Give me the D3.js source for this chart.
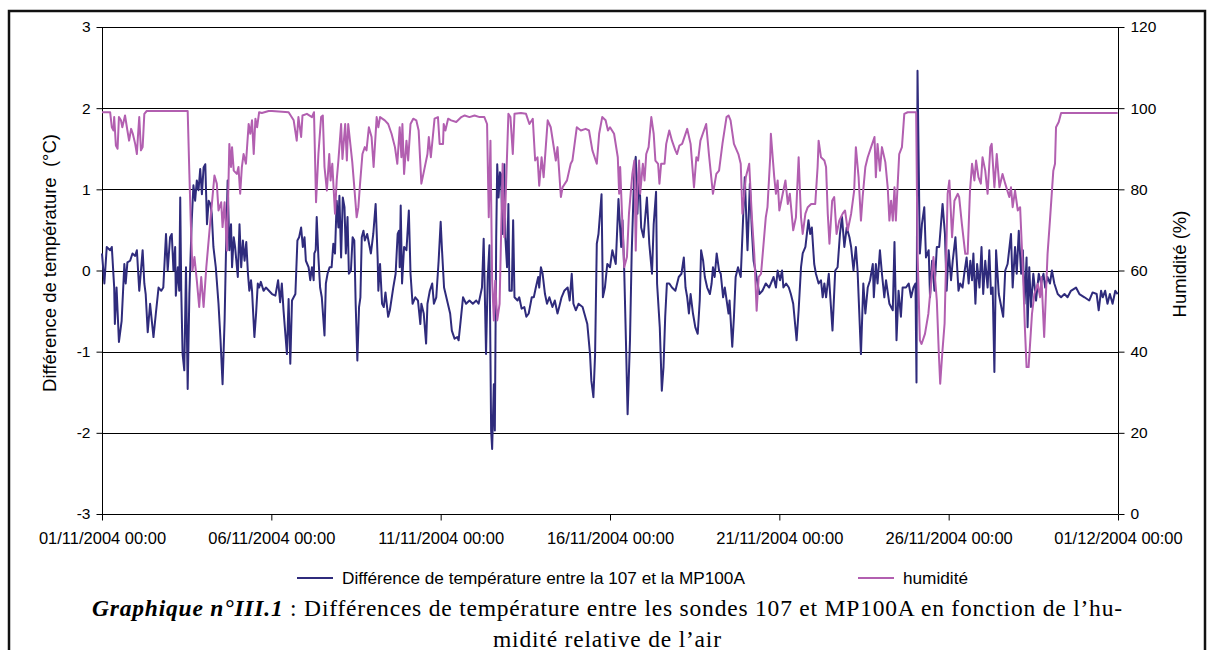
<!DOCTYPE html>
<html>
<head>
<meta charset="utf-8">
<script src="https://cdn.jsdelivr.net/npm/d3@7"></script>
<style>
  html, body { margin: 0; padding: 0; background: #fff; }
  svg { display: block; }
</style>
</head>
<body>
<svg id="chart" width="1214" height="650"></svg>
<script>
// ---- DATA (day offset from 01/11/2004 00:00, value) ----
const diffData = [
[0.00,0.21],[0.07,-0.16],[0.14,0.29],[0.24,0.25],[0.29,0.29],[0.36,-0.21],[0.38,-0.66],[0.43,-0.21],[0.50,-0.88],[0.58,-0.62],
[0.66,0.08],[0.70,-0.16],[0.75,0.10],[0.83,0.12],[0.90,0.21],[0.98,0.18],[1.03,0.25],[1.10,-0.25],[1.20,0.25],[1.25,-0.16],
[1.29,-0.29],[1.35,-0.76],[1.42,-0.41],[1.52,-0.82],[1.59,-0.53],[1.67,-0.21],[1.75,-0.25],[1.81,-0.21],[1.89,0.45],[1.94,0.00],
[2.01,0.41],[2.06,0.45],[2.11,0.00],[2.16,0.29],[2.18,-0.31],[2.24,0.04],[2.28,-0.25],[2.31,0.90],[2.34,-0.25],[2.38,-1.03],
[2.43,-1.23],[2.48,0.04],[2.53,-1.46],[2.58,-0.29],[2.65,0.62],[2.70,1.05],[2.75,0.86],[2.80,1.11],[2.85,0.99],[2.90,1.25],
[2.95,0.94],[3.00,1.27],[3.05,1.31],[3.10,0.57],[3.15,0.86],[3.20,0.82],[3.24,0.70],[3.29,0.29],[3.36,0.04],[3.44,-0.41],
[3.50,-0.86],[3.56,-1.40],[3.62,-0.62],[3.66,0.21],[3.71,1.11],[3.76,0.25],[3.81,0.57],[3.84,0.04],[3.89,0.41],[3.93,0.29],
[4.01,-0.08],[4.06,0.57],[4.11,0.04],[4.16,0.37],[4.21,0.12],[4.26,0.35],[4.31,-0.04],[4.35,-0.25],[4.40,-0.12],[4.43,-0.25],
[4.50,-0.82],[4.55,-0.53],[4.60,-0.16],[4.64,-0.21],[4.69,-0.14],[4.77,-0.25],[4.84,-0.21],[5.02,-0.29],[5.12,-0.31],[5.20,-0.12],
[5.26,-0.39],[5.31,-0.16],[5.36,-0.49],[5.46,-1.03],[5.51,-0.35],[5.56,-1.15],[5.61,-0.37],[5.71,-0.29],[5.77,0.37],[5.82,0.41],
[5.88,0.53],[5.93,0.29],[5.98,0.41],[6.02,0.12],[6.10,0.04],[6.15,-0.12],[6.20,0.04],[6.25,-0.12],[6.27,0.21],[6.31,0.25],
[6.34,0.66],[6.39,0.16],[6.44,-0.21],[6.49,-0.33],[6.57,-0.80],[6.61,-0.16],[6.66,-0.04],[6.72,0.04],[6.78,0.04],[6.83,0.33],
[6.88,0.21],[6.93,0.86],[6.98,0.53],[7.01,0.92],[7.06,0.16],[7.11,0.90],[7.16,0.78],[7.20,0.21],[7.25,0.66],[7.29,-0.04],
[7.35,0.00],[7.40,0.41],[7.45,0.37],[7.49,-0.41],[7.54,-1.11],[7.59,-0.45],[7.63,-0.33],[7.67,0.41],[7.72,0.49],[7.76,0.37],
[7.83,0.45],[7.94,0.21],[8.01,0.45],[8.08,0.82],[8.14,0.14],[8.16,-0.25],[8.21,0.08],[8.27,-0.41],[8.32,-0.45],[8.37,-0.27],
[8.45,-0.57],[8.50,-0.49],[8.60,-0.21],[8.67,-0.04],[8.73,0.45],[8.77,0.49],[8.79,0.04],[8.82,0.80],[8.86,-0.16],[8.92,0.29],
[8.99,0.25],[9.06,0.74],[9.11,-0.04],[9.17,-0.41],[9.25,-0.33],[9.33,-0.37],[9.40,-0.66],[9.43,-0.41],[9.50,-0.53],[9.57,-0.90],
[9.61,-0.41],[9.68,-0.25],[9.75,-0.16],[9.80,-0.41],[9.87,-0.33],[9.94,0.12],[10.00,0.60],[10.04,0.25],[10.10,-0.21],[10.19,-0.37],
[10.28,-0.53],[10.33,-0.74],[10.41,-0.84],[10.49,-0.82],[10.53,-0.86],[10.59,-0.62],[10.66,-0.33],[10.75,-0.41],[10.85,-0.37],[10.95,-0.41],
[11.05,-0.37],[11.12,-0.41],[11.22,-0.21],[11.27,0.39],[11.34,-1.03],[11.39,-0.08],[11.44,0.31],[11.49,-1.97],[11.52,-2.20],[11.57,-1.40],
[11.60,-1.97],[11.64,0.41],[11.67,1.31],[11.71,0.90],[11.75,1.21],[11.78,1.19],[11.83,0.45],[11.88,1.31],[11.91,0.41],[11.96,0.04],
[12.00,0.82],[12.03,-0.25],[12.10,-0.25],[12.14,0.62],[12.18,-0.33],[12.27,-0.37],[12.32,-0.33],[12.39,-0.47],[12.47,-0.45],[12.53,-0.57],
[12.60,-0.53],[12.69,-0.33],[12.75,-0.33],[12.81,-0.21],[12.88,-0.08],[12.91,-0.21],[12.96,0.04],[13.01,-0.04],[13.08,-0.29],[13.14,-0.41],
[13.21,-0.33],[13.30,-0.45],[13.37,-0.37],[13.45,-0.53],[13.50,-0.45],[13.57,-0.33],[13.65,-0.25],[13.75,-0.21],[13.81,-0.37],[13.87,-0.04],
[13.92,-0.41],[13.99,-0.49],[14.07,-0.41],[14.19,-0.45],[14.33,-0.66],[14.41,-1.03],[14.45,-1.36],[14.51,-1.56],[14.56,-1.03],[14.61,0.33],
[14.66,0.45],[14.75,0.94],[14.79,-0.33],[14.85,-0.21],[14.92,0.08],[15.00,0.04],[15.07,0.25],[15.17,0.08],[15.25,0.88],[15.33,0.29],
[15.37,0.62],[15.42,0.00],[15.47,-0.86],[15.52,-1.77],[15.59,-0.86],[15.64,0.21],[15.72,1.27],[15.76,1.40],[15.81,0.70],[15.86,1.27],
[15.92,0.53],[15.99,0.41],[16.09,0.90],[16.16,0.33],[16.24,-0.04],[16.29,0.57],[16.36,0.97],[16.39,-0.16],[16.47,-0.70],[16.53,-1.48],
[16.58,-1.19],[16.63,-0.57],[16.68,-0.16],[16.75,-0.16],[16.83,-0.21],[16.93,-0.25],[17.03,-0.08],[17.11,-0.04],[17.18,0.16],[17.23,-0.21],
[17.28,-0.33],[17.33,-0.53],[17.38,-0.29],[17.45,-0.53],[17.52,-0.70],[17.59,-0.78],[17.65,-0.37],[17.69,0.25],[17.75,0.12],[17.80,-0.08],
[17.87,-0.21],[17.95,-0.29],[18.00,-0.16],[18.04,0.04],[18.09,-0.08],[18.15,0.21],[18.22,0.00],[18.27,-0.04],[18.34,-0.33],[18.39,-0.21],
[18.50,-0.53],[18.53,-0.37],[18.61,-0.94],[18.66,-0.57],[18.71,-0.08],[18.78,0.04],[18.86,-0.08],[18.98,1.15],[19.06,0.25],[19.13,1.07],
[19.19,0.49],[19.24,0.12],[19.31,-0.04],[19.41,-0.29],[19.50,-0.25],[19.60,-0.16],[19.70,-0.21],[19.83,-0.08],[19.90,-0.21],[19.95,0.00],
[20.02,-0.12],[20.08,0.00],[20.12,-0.21],[20.20,-0.16],[20.28,-0.21],[20.34,-0.29],[20.41,-0.41],[20.51,-0.86],[20.57,-0.49],[20.64,0.04],
[20.69,0.21],[20.77,0.29],[20.86,0.62],[20.91,0.45],[20.96,0.53],[21.03,0.08],[21.08,-0.04],[21.16,-0.16],[21.23,-0.12],[21.28,-0.33],
[21.33,-0.16],[21.38,-0.33],[21.46,-0.04],[21.57,-0.74],[21.65,0.00],[21.72,0.04],[21.79,0.45],[21.85,0.66],[21.92,0.29],[21.99,0.53],
[22.07,0.41],[22.12,0.29],[22.19,0.00],[22.26,0.29],[22.31,0.00],[22.41,-1.03],[22.48,-0.16],[22.54,-0.53],[22.61,-0.21],[22.68,-0.12],
[22.76,0.08],[22.79,-0.33],[22.85,0.08],[22.90,-0.16],[22.97,0.25],[23.03,-0.04],[23.10,-0.33],[23.15,-0.12],[23.25,-0.41],[23.35,-0.49],
[23.40,0.35],[23.46,-0.86],[23.52,-0.25],[23.59,-0.57],[23.64,-0.21],[23.74,-0.21],[23.82,-0.16],[23.89,-0.33],[23.96,-0.21],[24.02,-0.16],
[24.05,-1.38],[24.08,2.46],[24.15,0.21],[24.21,0.57],[24.28,0.78],[24.33,0.16],[24.41,0.25],[24.45,-0.33],[24.51,0.12],[24.58,-0.25],
[24.65,0.29],[24.72,0.29],[24.82,0.82],[24.89,0.45],[24.94,-0.25],[25.00,0.25],[25.07,-0.12],[25.12,0.12],[25.20,0.41],[25.24,0.12],
[25.29,-0.25],[25.34,-0.16],[25.41,-0.21],[25.46,-0.04],[25.53,0.16],[25.59,-0.16],[25.64,0.12],[25.69,-0.12],[25.73,0.21],[25.79,-0.41],
[25.84,0.08],[25.91,-0.21],[25.97,0.29],[26.02,-0.29],[26.08,0.12],[26.15,-0.21],[26.20,0.25],[26.25,-0.29],[26.30,-0.21],[26.35,-1.25],
[26.40,0.25],[26.48,-0.29],[26.61,-0.57],[26.67,0.00],[26.74,0.08],[26.84,0.45],[26.89,-0.21],[26.96,0.29],[27.01,-0.04],[27.07,0.49],
[27.14,-0.04],[27.19,0.25],[27.24,-0.41],[27.30,0.16],[27.33,-0.70],[27.38,0.04],[27.43,-0.45],[27.50,-0.04],[27.58,-0.37],[27.66,-0.04],
[27.73,-0.16],[27.80,-0.04],[27.85,-0.21],[27.92,-0.08],[27.99,-0.16],[28.05,0.00],[28.12,-0.16],[28.22,-0.29],[28.32,-0.33],[28.42,-0.29],
[28.51,-0.33],[28.61,-0.25],[28.76,-0.21],[28.86,-0.29],[29.01,-0.33],[29.15,-0.37],[29.25,-0.27],[29.37,-0.29],[29.43,-0.49],[29.50,-0.25],
[29.55,-0.33],[29.62,-0.25],[29.69,-0.41],[29.76,-0.29],[29.84,-0.41],[29.92,-0.25],[29.99,-0.29]
];

const humData = [
[0.00,99.0],[0.24,99.0],[0.29,95.3],[0.34,94.5],[0.36,97.8],[0.41,90.8],[0.46,90.0],[0.50,97.8],[0.56,97.0],[0.60,95.3],
[0.68,98.2],[0.75,94.5],[0.80,92.0],[0.86,94.9],[0.91,93.7],[0.98,91.2],[1.03,88.7],[1.06,92.9],[1.10,97.8],[1.15,89.6],
[1.20,90.4],[1.25,98.6],[1.32,99.3],[2.53,99.3],[2.58,83.8],[2.62,72.3],[2.67,60.0],[2.73,63.3],[2.80,57.5],[2.87,51.0],
[2.93,58.4],[3.00,51.0],[3.08,60.8],[3.20,72.3],[3.32,83.4],[3.39,81.4],[3.44,74.8],[3.52,76.8],[3.56,70.7],[3.62,76.8],
[3.69,64.9],[3.76,91.2],[3.81,85.5],[3.84,90.4],[3.89,84.6],[3.98,83.8],[4.03,85.5],[4.08,78.9],[4.13,85.5],[4.18,88.7],
[4.25,86.3],[4.33,96.1],[4.38,93.7],[4.43,97.0],[4.48,88.7],[4.53,97.4],[4.58,95.3],[4.64,99.0],[4.72,98.8],[4.92,99.3],
[5.02,99.3],[5.51,99.0],[5.66,97.0],[5.75,92.0],[5.80,97.8],[5.88,92.9],[5.92,98.2],[6.05,98.6],[6.20,97.8],[6.26,99.0],
[6.32,76.8],[6.39,88.7],[6.47,97.8],[6.52,98.2],[6.57,85.5],[6.64,79.7],[6.71,88.7],[6.75,82.2],[6.80,86.3],[6.88,74.0],
[6.93,82.2],[6.98,87.1],[7.06,96.1],[7.10,87.5],[7.18,96.1],[7.23,87.1],[7.27,96.1],[7.39,86.7],[7.45,80.5],[7.52,73.1],
[7.57,75.6],[7.62,81.4],[7.69,88.7],[7.76,90.4],[7.81,89.6],[7.88,95.3],[7.96,92.9],[8.02,85.5],[8.11,97.8],[8.16,95.3],
[8.21,97.8],[8.35,97.0],[8.45,96.1],[8.55,93.7],[8.65,90.4],[8.72,86.3],[8.79,95.3],[8.84,87.9],[8.87,96.1],[8.92,83.8],
[8.99,92.0],[9.04,87.1],[9.11,96.1],[9.19,97.4],[9.28,97.0],[9.35,94.5],[9.43,81.4],[9.51,84.6],[9.61,88.7],[9.65,92.9],
[9.71,87.9],[9.82,97.4],[9.92,97.8],[9.97,91.2],[10.07,91.2],[10.09,96.1],[10.14,94.5],[10.22,97.4],[10.31,97.0],[10.46,96.6],
[10.61,97.8],[10.71,98.2],[10.85,97.8],[11.00,98.2],[11.15,97.8],[11.29,97.8],[11.37,96.1],[11.42,73.1],[11.47,92.0],[11.52,57.5],
[11.57,47.7],[11.61,57.5],[11.67,47.7],[11.74,51.8],[11.83,86.3],[11.88,68.2],[12.00,98.6],[12.06,97.8],[12.13,88.7],[12.18,98.6],
[12.37,98.8],[12.52,98.6],[12.62,96.1],[12.72,97.4],[12.79,87.1],[12.86,87.9],[12.91,80.9],[12.98,87.9],[13.04,83.0],[13.16,97.0],
[13.25,95.3],[13.40,87.1],[13.45,90.4],[13.55,78.1],[13.60,80.5],[13.73,82.2],[13.84,86.3],[13.89,87.1],[14.02,95.3],[14.14,94.5],
[14.28,94.9],[14.38,94.5],[14.48,89.6],[14.61,86.3],[14.68,93.7],[14.77,97.8],[14.87,97.0],[14.94,94.5],[15.00,95.3],[15.12,93.7],
[15.23,87.9],[15.27,78.9],[15.30,85.5],[15.37,70.7],[15.42,60.8],[15.50,63.3],[15.56,74.0],[15.66,83.8],[15.72,87.1],[15.76,64.9],
[15.80,78.9],[15.86,87.1],[15.89,78.9],[15.97,86.3],[16.02,82.2],[16.07,88.7],[16.14,90.4],[16.22,97.8],[16.29,93.7],[16.34,87.1],
[16.42,86.3],[16.46,81.4],[16.51,86.3],[16.61,86.3],[16.66,91.2],[16.75,94.5],[16.83,92.0],[16.93,89.6],[16.98,88.7],[17.05,90.8],
[17.13,91.2],[17.28,94.9],[17.38,91.2],[17.48,80.5],[17.55,87.9],[17.60,87.1],[17.67,92.0],[17.84,96.1],[17.92,88.7],[17.97,84.6],
[18.04,78.9],[18.14,83.8],[18.22,84.6],[18.32,91.2],[18.44,97.8],[18.50,98.2],[18.56,97.0],[18.66,91.2],[18.79,88.7],[18.86,86.3],
[18.91,74.0],[19.01,83.0],[19.11,86.3],[19.19,73.1],[19.26,64.1],[19.33,50.1],[19.39,58.4],[19.46,59.2],[19.60,73.1],[19.65,75.6],
[19.73,87.9],[19.75,93.7],[19.85,83.0],[19.90,78.9],[19.95,82.2],[20.00,74.8],[20.10,78.9],[20.18,82.2],[20.25,76.4],[20.31,78.9],
[20.41,69.9],[20.49,73.1],[20.57,87.9],[20.64,73.1],[20.69,69.0],[20.77,74.0],[20.84,75.6],[20.94,76.4],[21.06,76.4],[21.13,85.5],
[21.16,92.0],[21.23,87.9],[21.33,87.1],[21.38,85.5],[21.43,74.0],[21.48,66.6],[21.56,77.2],[21.62,78.1],[21.69,69.0],[21.77,72.3],
[21.87,74.0],[21.94,74.8],[22.02,69.9],[22.12,74.0],[22.21,79.7],[22.26,90.4],[22.34,83.0],[22.41,72.3],[22.46,78.1],[22.54,85.5],
[22.61,87.9],[22.71,90.4],[22.81,92.9],[22.85,83.0],[22.90,91.2],[22.97,84.6],[23.03,90.4],[23.13,86.7],[23.20,80.5],[23.25,72.3],
[23.30,77.2],[23.35,72.3],[23.40,80.5],[23.44,72.3],[23.54,88.7],[23.62,90.4],[23.69,98.6],[23.79,99.0],[24.04,99.0],[24.08,64.9],
[24.15,42.8],[24.20,41.9],[24.30,44.4],[24.40,49.3],[24.55,63.3],[24.65,52.6],[24.71,39.5],[24.75,32.1],[24.81,39.5],[24.88,47.0],
[24.97,78.9],[25.02,82.2],[25.10,68.2],[25.17,77.2],[25.27,78.9],[25.31,78.1],[25.39,71.5],[25.49,64.1],[25.56,64.1],[25.63,79.7],
[25.69,86.3],[25.76,82.2],[25.81,87.1],[25.88,83.0],[25.95,81.4],[26.00,87.9],[26.08,84.6],[26.15,78.9],[26.23,90.4],[26.27,91.2],
[26.35,80.5],[26.42,88.7],[26.50,80.5],[26.59,83.8],[26.67,81.4],[26.79,78.1],[26.84,80.5],[26.89,75.6],[26.96,79.7],[27.04,74.8],
[27.11,75.6],[27.20,58.4],[27.25,46.0],[27.30,36.2],[27.36,36.2],[27.46,49.3],[27.53,54.2],[27.63,56.7],[27.70,53.4],[27.74,58.4],
[27.82,43.6],[27.92,64.1],[27.99,72.3],[28.09,84.6],[28.14,86.3],[28.17,95.3],[28.25,96.6],[28.32,98.8],[29.99,98.8]
];

const leftTicks = [3, 2, 1, 0, -1, -2, -3];
const rightTicks = [120, 100, 80, 60, 40, 20, 0];
const xTickDays = [0, 5, 10, 15, 20, 25, 30];
const seriesNames = ["Différence de température entre la 107 et la MP100A", "humidité"];
const seriesColors = ["#2f2b7c", "#b25fb0"];
const leftTitle = "Différence de température  (°C)";
const rightTitle = "Humidité (%)";
const captionBold = "Graphique n°III.1";
const captionRest = " : Différences de température entre les sondes 107 et MP100A en fonction de l’hu-";
const captionLine2 = "midité relative de l’air";

// ---- CHART ----
const svg = d3.select("#chart");
const start = new Date(2004, 10, 1, 0, 0);
const dayMs = 86400000;
const toDate = d => new Date(start.getTime() + d * dayMs);

const L = 102, R = 1118, T = 27, B = 514;
const x = d3.scaleTime().domain([start, toDate(30)]).range([L, R]);
const yL = d3.scaleLinear().domain([-3, 3]).range([B, T]);
const yR = d3.scaleLinear().domain([0, 120]).range([B, T]);

// outer frame
svg.append("rect").attr("x", 9).attr("y", 11).attr("width", 1196).attr("height", 700)
  .attr("fill", "none").attr("stroke", "#111").attr("stroke-width", 2.5);

// gridlines
svg.append("g").selectAll("line").data(leftTicks).join("line")
  .attr("x1", L).attr("x2", R)
  .attr("y1", d => Math.round(yL(d)) + 0.5).attr("y2", d => Math.round(yL(d)) + 0.5)
  .attr("stroke", "#000").attr("stroke-width", 1);

const fontAxis = "'Liberation Sans', Arial, sans-serif";
const plainNum = d => String(d);

// left axis
const gL = svg.append("g").attr("transform", `translate(${L + 0.5},0)`)
  .call(d3.axisLeft(yL).tickValues(leftTicks).tickSize(6).tickPadding(6).tickFormat(plainNum));
// right axis
const gR = svg.append("g").attr("transform", `translate(${R + 0.5},0)`)
  .call(d3.axisRight(yR).tickValues(rightTicks).tickSize(6).tickPadding(6).tickFormat(plainNum));
// bottom axis
const gB = svg.append("g").attr("transform", `translate(0,${B + 0.5})`)
  .call(d3.axisBottom(x).tickValues(xTickDays.map(toDate)).tickSize(6).tickPadding(12)
    .tickFormat(d3.timeFormat("%d/%m/%Y %H:%M")));

[gL, gR, gB].forEach(g => {
  g.selectAll(".domain").attr("stroke", "#000").attr("stroke-width", 1);
  g.selectAll(".tick line").attr("stroke", "#000");
  g.selectAll("text").attr("font-family", fontAxis).attr("font-size", 15.5).attr("fill", "#000");
});
gB.selectAll("text").attr("font-size", 16.5);
gL.select(".domain").attr("d", `M0,${T}V${B}`);
gR.select(".domain").attr("d", `M0,${T}V${B}`);
gB.select(".domain").attr("d", `M${L},0H${R}`);

// series lines
const lineDiff = d3.line().x(d => x(toDate(d[0]))).y(d => yL(d[1]));
const lineHum = d3.line().x(d => x(toDate(d[0]))).y(d => yR(d[1]));

svg.append("path").datum(diffData).attr("d", lineDiff)
  .attr("fill", "none").attr("stroke", seriesColors[0]).attr("stroke-width", 2)
  .attr("stroke-linejoin", "round");
svg.append("path").datum(humData).attr("d", lineHum)
  .attr("fill", "none").attr("stroke", seriesColors[1]).attr("stroke-width", 2)
  .attr("stroke-linejoin", "round");

// axis titles
svg.append("text").attr("transform", `translate(56,263) rotate(-90)`)
  .attr("text-anchor", "middle").attr("font-family", fontAxis).attr("font-size", 18.5)
  .style("white-space", "pre")
  .text(leftTitle);
svg.append("text").attr("transform", `translate(1186,264) rotate(-90)`)
  .attr("text-anchor", "middle").attr("font-family", fontAxis).attr("font-size", 18.5)
  .text(rightTitle);

// legend
const legendItems = [
  { x: 297, name: seriesNames[0], color: seriesColors[0] },
  { x: 858, name: seriesNames[1], color: seriesColors[1] }
];
const lg = svg.append("g");
legendItems.forEach(it => {
  lg.append("line").attr("x1", it.x).attr("x2", it.x + 36).attr("y1", 578).attr("y2", 578)
    .attr("stroke", it.color).attr("stroke-width", 2);
  lg.append("text").attr("x", it.x + 45).attr("y", 584)
    .attr("font-family", fontAxis).attr("font-size", 17.2).text(it.name);
});

// caption
const serif = "'Liberation Serif', 'Times New Roman', serif";
const cap = svg.append("text").attr("x", 607).attr("y", 616).attr("text-anchor", "middle")
  .attr("font-family", serif).attr("font-size", 23.5)
  .attr("textLength", 1030).attr("lengthAdjust", "spacing");
cap.append("tspan").attr("font-weight", "bold").attr("font-style", "italic").text(captionBold);
cap.append("tspan").text(captionRest);
svg.append("text").attr("x", 607).attr("y", 647).attr("text-anchor", "middle")
  .attr("font-family", serif).attr("font-size", 23.5)
  .attr("textLength", 228).attr("lengthAdjust", "spacing")
  .text(captionLine2);
</script>
</body>
</html>
